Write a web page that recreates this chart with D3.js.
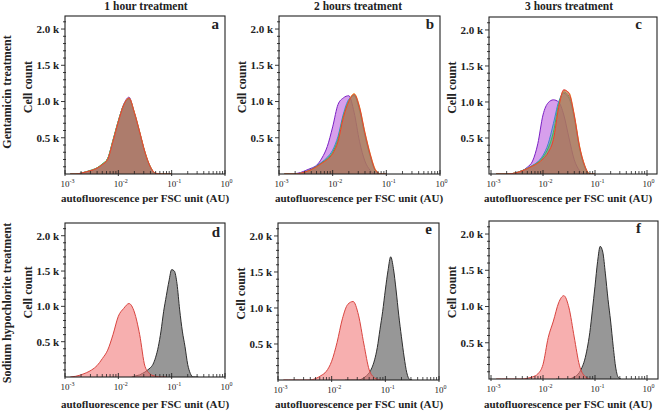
<!DOCTYPE html>
<html><head><meta charset="utf-8">
<script src="https://cdn.jsdelivr.net/npm/d3@7"></script>
<style>body{margin:0;background:#fff;} svg{display:block;font-family:"Liberation Serif","Times New Roman",serif;}</style>
</head><body><svg id="chart" width="660" height="412"></svg>
<script>
// ---------------- DATA ----------------
const columnTitles = ["1 hour treatment", "2 hours treatment", "3 hours treatment"];
const rowTitles = ["Gentamicin treatment", "Sodium hypochlorite treatment"];
const panelLetters = ["a", "b", "c", "d", "e", "f"];
const yTickValues = [500, 1000, 1500, 2000];
const yTickLabels = ["0.5 k", "1.0 k", "1.5 k", "2.0 k"];
const xTickExponents = [-3, -2, -1, 0];
const xAxisLabel = "autofluorescence per FSC unit (AU)";
const yAxisLabel = "Cell count";

// bin centres (log10 of autofluorescence per FSC)
const topBins  = [-2.9,-2.8,-2.7,-2.6,-2.5,-2.4,-2.3,-2.2,-2.1,-2.0,-1.9,-1.8,-1.7,-1.6,-1.5,-1.4,-1.3,-1.2,-1.1,-1.0];
const redBins  = [-2.9,-2.8,-2.7,-2.6,-2.5,-2.4,-2.3,-2.2,-2.1,-2.0,-1.9,-1.8,-1.7,-1.6,-1.5,-1.4,-1.3,-1.2,-1.1];
const grayBins = [-1.75,-1.7,-1.65,-1.6,-1.55,-1.5,-1.45,-1.4,-1.35,-1.3,-1.25,-1.2,-1.15,-1.1,-1.05,-1.0,-0.95,-0.9,-0.85,-0.8,-0.75,-0.7,-0.65,-0.6,-0.55,-0.5];

// Gentamicin, 1 h
const aPurple = [0,0,10,30,50,80,130,210,460,730,960,1060,840,570,290,95,8,0,0,0];
const aBlue   = [0,0,12,32,54,84,138,212,465,730,950,1035,840,572,292,96,8,0,0,0];
const aGreen  = [0,0,12,32,55,85,140,215,470,735,955,1040,845,575,295,98,8,0,0,0];
const aOrange = [0,0,10,30,50,80,130,205,455,725,950,1050,855,585,305,102,12,0,0,0];
const aRed    = [0,0,10,30,50,80,130,200,450,720,950,1045,850,580,300,100,10,0,0,0];
// Gentamicin, 2 h
const bPurple = [0,0,5,20,50,80,120,220,380,650,960,1050,1080,850,450,180,50,0,0,0];
const bBlue   = [0,0,0,12,35,65,110,165,230,330,520,830,1030,1080,880,530,240,40,0,0];
const bGreen  = [0,0,0,10,32,62,105,155,215,300,480,800,1010,1090,900,550,255,45,0,0];
const bOrange = [0,0,0,10,30,55,95,145,195,275,440,770,1000,1110,930,580,280,60,0,0];
const bRed    = [0,0,0,10,30,60,100,150,200,280,450,780,1000,1100,920,570,270,50,0,0];
// Gentamicin, 3 h
const cPurple = [0,0,0,0,20,45,95,180,420,820,990,1030,1000,820,500,200,50,0,0,0];
const cBlue   = [0,0,0,5,22,48,80,120,170,260,420,700,1000,1120,1050,780,360,100,0,0];
const cGreen  = [0,0,0,5,21,46,78,115,160,235,360,580,960,1140,1080,800,375,110,0,0];
const cOrange = [0,0,0,5,20,44,74,108,148,205,295,470,910,1160,1130,830,400,125,0,0];
const cRed    = [0,0,0,5,20,45,75,110,150,210,300,480,920,1170,1120,820,390,120,0,0];
// Sodium hypochlorite: red and gray populations
const dRed  = [0,10,30,60,100,160,260,380,600,860,970,1040,920,600,150,40,10,0,0];
const dGray = [0,10,20,30,50,70,100,130,180,280,430,650,930,1150,1360,1520,1500,1320,950,650,430,180,50,0,0,0];
const eRed  = [0,0,0,0,0,0,20,60,120,260,520,850,1050,1090,900,500,140,30,0];
const eGray = [0,0,0,0,0,0,10,30,60,100,170,280,450,700,950,1250,1520,1710,1550,1250,900,600,320,100,10,0];
const fRed  = [0,0,0,0,0,0,10,30,70,200,570,800,1050,1150,980,580,190,40,0];
const fGray = [0,0,0,0,0,0,10,25,50,90,160,260,420,640,950,1280,1620,1830,1750,1450,1100,800,450,150,20,0];

// ---------------- LAYOUT / STYLE ----------------
const styles = {
  purple: {fill: "#b650dc", op: 0.55, stroke: "#7a1fc4"},
  blue:   {fill: "#4f8fc9", op: 0.45, stroke: "#3d86cc"},
  green:  {fill: "#5aa85a", op: 0.45, stroke: "#3cc04a"},
  orange: {fill: "#e8a040", op: 0.25, stroke: "#f2a12a"},
  red:    {fill: "#c45a50", op: 0.5,  stroke: "#e0403a"},
  pink:   {fill: "#f27a7a", op: 0.6,  stroke: "#d9443f"},
  gray:   {fill: "#979797", op: 1,    stroke: "#2e2e2e"}
};

// frame (x0..x1, y0..y1) and the pixel span of the 1e-3..1e0 axis (r0..r1)
const panels = [
  {x0:65,  x1:225, r0:65,  r1:225, y0:16,  y1:174, lx:219, ly:29,  series:[["purple",topBins,aPurple],["blue",topBins,aBlue],["green",topBins,aGreen],["orange",topBins,aOrange],["red",topBins,aRed]]},
  {x0:279, x1:440, r0:279, r1:440, y0:16,  y1:174, lx:434, ly:29,  series:[["purple",topBins,bPurple],["blue",topBins,bBlue],["green",topBins,bGreen],["orange",topBins,bOrange],["red",topBins,bRed]]},
  {x0:489, x1:657, r0:491, r1:647, y0:17,  y1:174, lx:642, ly:29,  series:[["purple",topBins,cPurple],["blue",topBins,cBlue],["green",topBins,cGreen],["orange",topBins,cOrange],["red",topBins,cRed]]},
  {x0:65,  x1:225, r0:65,  r1:225, y0:223, y1:377, lx:220, ly:237, series:[["gray",grayBins,dGray],["pink",redBins,dRed]]},
  {x0:278, x1:439, r0:278, r1:439, y0:223, y1:380, lx:432, ly:234, series:[["gray",grayBins,eGray],["pink",redBins,eRed]]},
  {x0:489, x1:658, r0:491, r1:647, y0:221, y1:379, lx:641, ly:233, series:[["gray",grayBins,fGray],["pink",redBins,fRed]]}
];
const titleX = [146, 358, 569];
const xLabelX = [145, 359, 568];
const rowCenterY = [92, 303];

const svg = d3.select("#chart");
const defs = svg.append("defs");
const ink = "#222";

panels.forEach((p, i) => {
  const x = d3.scaleLog().domain([1e-3, 1]).range([p.r0, p.r1]);
  const y = d3.scaleLinear().domain([0, 2180]).range([p.y1, p.y0]);
  const g = svg.append("g");
  defs.append("clipPath").attr("id", "clip" + i).append("rect")
    .attr("x", p.x0).attr("y", p.y0).attr("width", p.x1 - p.x0).attr("height", p.y1 - p.y0);
  const plot = g.append("g").attr("clip-path", `url(#clip${i})`);

  p.series.forEach(([key, bins, vals]) => {
    const st = styles[key];
    const pts = bins.map((b, k) => [Math.pow(10, b), vals[k]]);
    const area = d3.area().curve(d3.curveMonotoneX)
      .x(d => x(d[0])).y0(y(0)).y1(d => y(d[1]));
    const line = d3.line().curve(d3.curveMonotoneX)
      .x(d => x(d[0])).y(d => y(d[1]));
    plot.append("path").attr("d", area(pts)).attr("fill", st.fill).attr("fill-opacity", st.op);
    plot.append("path").attr("d", line(pts)).attr("fill", "none").attr("stroke", st.stroke).attr("stroke-width", 1);
  });

  // frame
  g.append("rect").attr("x", p.x0).attr("y", p.y0).attr("width", p.x1 - p.x0).attr("height", p.y1 - p.y0)
    .attr("fill", "none").attr("stroke", ink).attr("stroke-width", 1.1);

  // y ticks
  d3.range(100, 2180, 100).forEach(v => {
    const major = v % 500 === 0;
    g.append("line").attr("x1", p.x0 - (major ? 4 : 2)).attr("x2", p.x0 + (major ? 0 : 1))
      .attr("y1", y(v)).attr("y2", y(v)).attr("stroke", ink).attr("stroke-width", 0.9);
  });
  yTickValues.forEach((v, k) => {
    g.append("text").attr("x", p.x0 - 6).attr("y", y(v)).attr("dy", "0.35em")
      .attr("text-anchor", "end").attr("font-size", 11).attr("font-weight", "bold").attr("fill", ink)
      .text(yTickLabels[k]);
  });

  // x ticks (log minor)
  xTickExponents.forEach((e, k) => {
    const xv = x(Math.pow(10, e));
    g.append("line").attr("x1", xv).attr("x2", xv).attr("y1", p.y1 - 4).attr("y2", p.y1 + 2)
      .attr("stroke", ink).attr("stroke-width", 0.9);
    if (k < xTickExponents.length - 1) {
      for (let m = 2; m <= 9; m++) {
        const xm = x(m * Math.pow(10, e));
        g.append("line").attr("x1", xm).attr("x2", xm).attr("y1", p.y1 - 3).attr("y2", p.y1)
          .attr("stroke", ink).attr("stroke-width", 0.8);
      }
    }
    const t = g.append("text").attr("x", xv - 4.5).attr("y", p.y1 + 12.5)
      .attr("font-size", 9).attr("fill", ink);
    t.append("tspan").text("10");
    t.append("tspan").attr("dy", -3.5).attr("font-size", 6).text(e === 0 ? "0" : String(e));
  });

  // axis titles
  g.append("text").attr("x", xLabelX[i % 3]).attr("y", i < 3 ? 202 : 408)
    .attr("text-anchor", "middle").attr("font-size", 11).attr("font-weight", "bold").attr("fill", ink)
    .text(xAxisLabel);
  const cy = p.y0 + 0.45 * (p.y1 - p.y0);
  g.append("text").attr("transform", `translate(${p.x0 - 33},${cy}) rotate(-90)`)
    .attr("text-anchor", "middle").attr("font-size", 12).attr("font-weight", "bold").attr("fill", ink)
    .text(yAxisLabel);

  // panel letter
  g.append("text").attr("x", p.lx).attr("y", p.ly).attr("text-anchor", "end")
    .attr("font-size", 15).attr("font-weight", "bold").attr("fill", ink).text(panelLetters[i]);
});

columnTitles.forEach((t, k) => {
  svg.append("text").attr("x", titleX[k]).attr("y", 10).attr("text-anchor", "middle")
    .attr("font-size", 11.5).attr("font-weight", "bold").attr("fill", ink).text(t);
});
rowTitles.forEach((t, k) => {
  svg.append("text").attr("transform", `translate(11,${rowCenterY[k]}) rotate(-90)`)
    .attr("text-anchor", "middle").attr("font-size", 12).attr("font-weight", "bold").attr("fill", ink).text(t);
});
</script>
</body></html>
